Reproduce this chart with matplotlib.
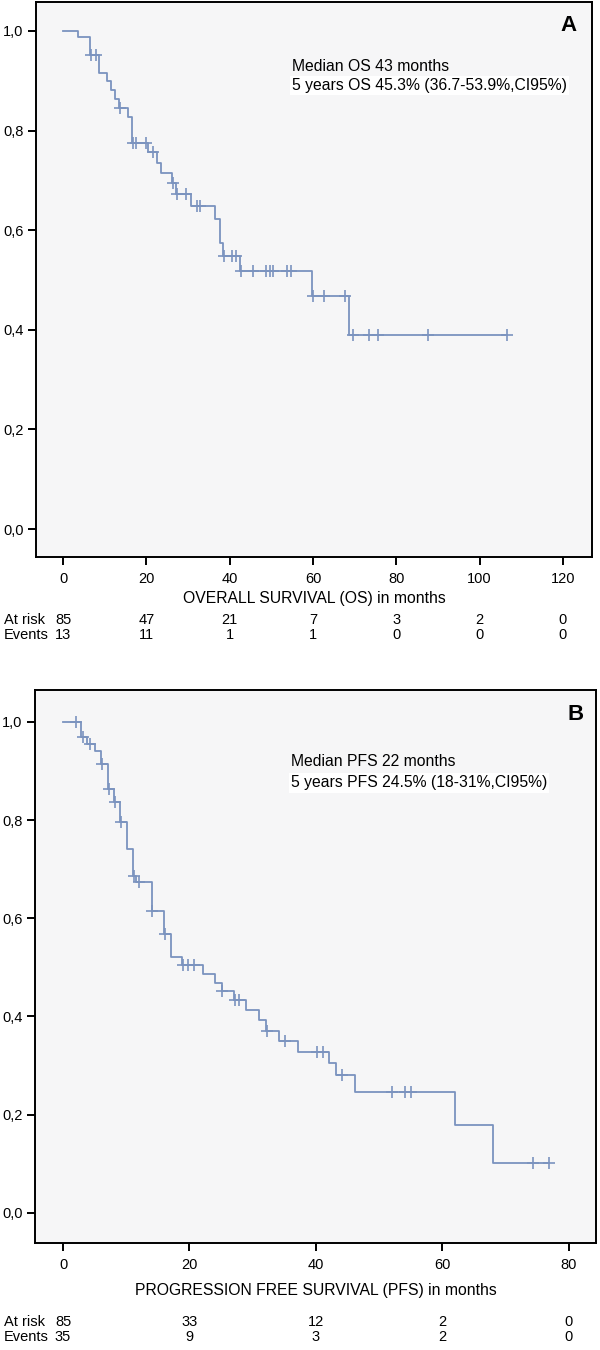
import numpy as np
import matplotlib
matplotlib.use("Agg")
import matplotlib.pyplot as plt

plt.rcParams['font.family'] = ['Liberation Sans', 'DejaVu Sans']

# ---------------- Data ----------------
# Panel A: overall survival (months) - event times and survival after each event
os_event_times = [3.5, 6.5, 8.7, 10.5, 11.4, 12.5, 13.4, 15.7, 16.6, 20.5, 22.5,
                  23.4, 26.2, 27.2, 30.6, 36.5, 37.7, 38.5, 42.5, 59.7, 68.6]
os_surv = [0.988, 0.952, 0.916, 0.900, 0.882, 0.864, 0.846, 0.828, 0.774, 0.756, 0.734,
           0.714, 0.695, 0.673, 0.649, 0.623, 0.574, 0.548, 0.519, 0.468, 0.390]
os_censor_times = [6.8, 7.8, 13.6, 16.9, 17.5, 19.9, 21.6, 26.4, 27.4, 29.4, 32.1, 32.9,
                   38.6, 40.5, 41.5, 42.7, 45.7, 48.7, 49.7, 50.5, 53.7, 54.7, 59.9,
                   62.6, 67.7, 69.7, 73.5, 75.5, 87.7, 106.6]

# Panel B: progression free survival (months)
pfs_event_times = [2.9, 3.8, 5.0, 6.0, 7.1, 8.0, 9.0, 10.2, 11.1, 11.6, 14.0, 16.0, 17.1,
                   18.8, 22.2, 24.0, 25.1, 27.0, 29.0, 31.0, 32.1, 34.2, 37.2, 42.1, 43.1,
                   46.2, 62.0, 68.0]
pfs_surv = [0.969, 0.955, 0.941, 0.914, 0.863, 0.836, 0.797, 0.741, 0.686, 0.674, 0.615,
            0.568, 0.522, 0.504, 0.487, 0.469, 0.451, 0.433, 0.413, 0.393, 0.370, 0.349,
            0.327, 0.305, 0.280, 0.246, 0.178, 0.102]
pfs_censor_times = [2.1, 3.2, 4.2, 6.1, 7.2, 8.2, 9.1, 11.2, 12.0, 14.1, 16.1, 19.0, 19.8,
                    20.7, 25.2, 27.2, 27.9, 32.2, 35.1, 40.1, 41.05, 44.05, 52.1, 54.1,
                    55.0, 74.3, 76.8]

y_ticks = [0.0, 0.2, 0.4, 0.6, 0.8, 1.0]
y_tick_labels = ['0,0', '0,2', '0,4', '0,6', '0,8', '1,0']
os_x_ticks = [0, 20, 40, 60, 80, 100, 120]
pfs_x_ticks = [0, 20, 40, 60, 80]

os_at_risk = ['85', '47', '21', '7', '3', '2', '0']
os_events = ['13', '11', '1', '1', '0', '0', '0']
pfs_at_risk = ['85', '33', '12', '2', '0']
pfs_events = ['35', '9', '3', '2', '0']

os_text = ["Median OS 43 months", "5 years OS 45.3% (36.7-53.9%,CI95%)"]
pfs_text = ["Median PFS 22 months", "5 years PFS 24.5% (18-31%,CI95%)"]

# ---------------- Style ----------------
LINE_C = '#7b93bf'
FACE_C = '#f6f6f7'
W, H = 600, 1350

fig = plt.figure(figsize=(6, 13.5), dpi=100)
fig.patch.set_facecolor('white')


def px_axes(left, right, top, bottom):
    return fig.add_axes([left / W, 1 - bottom / H, (right - left) / W, (bottom - top) / H])


def km_panel(ax, ev_t, surv, cens_t, xlim, ylim, xticks, xlabel, xlabel_y):
    ev_t = np.asarray(ev_t)
    levels = np.concatenate([[1.0], surv])
    end_t = max(max(cens_t), ev_t[-1])
    tt = np.concatenate([[0.0], ev_t, [end_t]])
    ss = np.concatenate([levels, [levels[-1]]])
    ax.step(tt, ss, where='post', color=LINE_C, lw=1.3, zorder=3)
    cy = levels[np.searchsorted(ev_t, cens_t, side='right')]
    ax.plot(cens_t, cy, linestyle='none', marker='+', ms=8, mew=1.2,
            color=LINE_C, zorder=4)
    ax.set_facecolor(FACE_C)
    ax.set_xlim(*xlim)
    ax.set_ylim(*ylim)
    ax.set_yticks(y_ticks)
    ax.set_yticklabels(y_tick_labels)
    ax.set_xticks(xticks)
    ax.set_xticklabels([str(v) for v in xticks])
    for s in ax.spines.values():
        s.set_linewidth(1.4)
        s.set_color('black')
    ax.tick_params(axis='both', direction='out', length=6, width=1.4,
                   labelsize=10.5, color='black')
    ax.tick_params(axis='y', pad=3)
    ax.tick_params(axis='x', pad=5)
    ax.set_xlabel(xlabel, fontsize=11.3, va='center')
    ax.xaxis.set_label_coords(0.5, xlabel_y)


def risk_rows(ax, xticks, at_risk, events, y_risk_px, y_ev_px):
    tr = ax.get_xaxis_transform()
    bb = ax.get_position()
    bottom_px = (1 - bb.y0) * H
    height_px = bb.height * H
    for ypx, lab, vals in [(y_risk_px, 'At risk', at_risk), (y_ev_px, 'Events', events)]:
        fig.text(4 / W, 1 - ypx / H, lab, ha='left', va='center', fontsize=10.5)
        ya = (bottom_px - ypx) / height_px
        for xv, v in zip(xticks, vals):
            ax.text(xv, ya, v, transform=tr, ha='center', va='center',
                    fontsize=10.5, clip_on=False)


# ---------------- Panel A ----------------
axA = px_axes(36, 592, 2, 557)
km_panel(axA, os_event_times, os_surv, os_censor_times,
         xlim=(-6.5, 127.0), ylim=(-0.056, 1.058), xticks=os_x_ticks,
         xlabel='OVERALL SURVIVAL (OS) in months', xlabel_y=(557 - 598) / 555)
axA.text(0.957, 0.957, 'A', transform=axA.transAxes, ha='center', va='center',
         fontsize=16, fontweight='bold')
axA.text(0.4604, 0.883, os_text[0], transform=axA.transAxes, ha='left', va='center',
         fontsize=11.3)
axA.text(0.4604, 0.849, os_text[1], transform=axA.transAxes, ha='left', va='center',
         fontsize=11.3, bbox=dict(facecolor='white', edgecolor='none', pad=1.5))
risk_rows(axA, os_x_ticks, os_at_risk, os_events, 620, 635)

# ---------------- Panel B ----------------
B_TOP, B_BOT = 690, 1243
axB = px_axes(35, 596, B_TOP, B_BOT)
hB = B_BOT - B_TOP
km_panel(axB, pfs_event_times, pfs_surv, pfs_censor_times,
         xlim=(-4.43, 84.3), ylim=(-0.0615, 1.065), xticks=pfs_x_ticks,
         xlabel='PROGRESSION FREE SURVIVAL (PFS) in months', xlabel_y=(B_BOT - 1290) / hB)
axB.text(0.964, (B_BOT - 714) / hB, 'B', transform=axB.transAxes, ha='center', va='center',
         fontsize=16, fontweight='bold')
axB.text(0.4563, (B_BOT - 762) / hB, pfs_text[0], transform=axB.transAxes, ha='left',
         va='center', fontsize=11.3)
axB.text(0.4563, (B_BOT - 783) / hB, pfs_text[1], transform=axB.transAxes, ha='left',
         va='center', fontsize=11.3, bbox=dict(facecolor='white', edgecolor='none', pad=1.5))
risk_rows(axB, pfs_x_ticks, pfs_at_risk, pfs_events, 1322, 1337)

fig.savefig('out.png', dpi=100, facecolor='white')
